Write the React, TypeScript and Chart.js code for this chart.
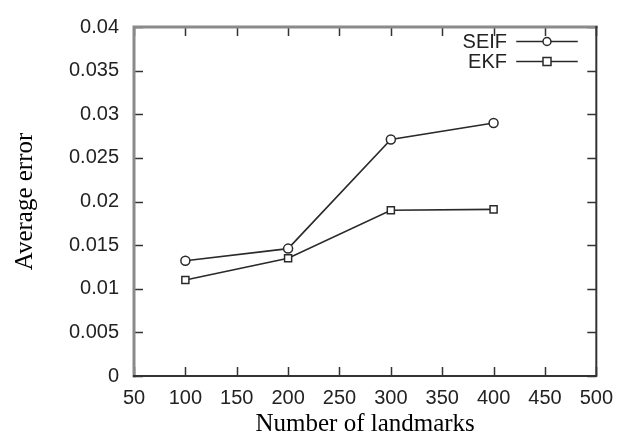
import React, { useEffect, useRef } from "react";
import { Chart, registerables } from "chart.js";

Chart.register(...registerables);

const landmarks = [100, 200, 300, 400];
const seifError = [0.0132, 0.0146, 0.0271, 0.029];
const ekfError = [0.011, 0.0135, 0.019, 0.0191];
const seriesNames = ["SEIF", "EKF"];
const xTickValues = [50, 100, 150, 200, 250, 300, 350, 400, 450, 500];
const yTickValues = [0, 0.005, 0.01, 0.015, 0.02, 0.025, 0.03, 0.035, 0.04];
const xTitle = "Number of landmarks";
const yTitle = "Average error";

const LINE = "#2a2a2a";

const framePlugin = {
  id: "gnuFrame",
  afterDatasetsDraw(chart: any) {
    const { ctx, chartArea: a, scales } = chart;
    const L = 9;
    ctx.save();
    // tick marks (inward, mirrored)
    ctx.strokeStyle = "#333";
    ctx.lineWidth = 1.5;
    xTickValues.forEach((v) => {
      const x = Math.round(scales.x.getPixelForValue(v)) + 0.5;
      ctx.beginPath();
      ctx.moveTo(x, a.bottom);
      ctx.lineTo(x, a.bottom - L);
      ctx.moveTo(x, a.top);
      ctx.lineTo(x, a.top + L);
      ctx.stroke();
    });
    yTickValues.forEach((v) => {
      const y = Math.round(scales.y.getPixelForValue(v)) + 0.5;
      ctx.beginPath();
      ctx.moveTo(a.left, y);
      ctx.lineTo(a.left + L, y);
      ctx.moveTo(a.right, y);
      ctx.lineTo(a.right - L, y);
      ctx.stroke();
    });
    // frame
    ctx.lineCap = "square";
    ctx.strokeStyle = "#8a8a8a";
    ctx.lineWidth = 3;
    ctx.beginPath();
    ctx.moveTo(a.left, a.bottom);
    ctx.lineTo(a.left, a.top);
    ctx.lineTo(a.right, a.top);
    ctx.stroke();
    ctx.strokeStyle = "#333";
    ctx.lineWidth = 2;
    ctx.beginPath();
    ctx.moveTo(a.right, a.top);
    ctx.lineTo(a.right, a.bottom);
    ctx.lineTo(a.left, a.bottom);
    ctx.stroke();

    // legend (text left of sample, gnuplot style)
    const textRight = 507;
    const x0 = 517;
    const x1 = 577;
    const xm = (x0 + x1) / 2;
    const rows = [41, 61];
    ctx.font = "20px 'Liberation Sans', Arial, sans-serif";
    ctx.textAlign = "right";
    ctx.textBaseline = "middle";
    chart.data.datasets.forEach((ds: any, i: number) => {
      const y = rows[i];
      ctx.fillStyle = "#222";
      ctx.fillText(ds.label, textRight, y + 1);
      ctx.strokeStyle = LINE;
      ctx.lineWidth = 1.5;
      ctx.beginPath();
      ctx.moveTo(x0, y + 0.5);
      ctx.lineTo(x1, y + 0.5);
      ctx.stroke();
      ctx.fillStyle = "#fff";
      ctx.beginPath();
      if (ds.pointStyle === "rect") {
        ctx.rect(xm - 4, y - 3.5, 8, 8);
      } else {
        ctx.arc(xm, y + 0.5, 4, 0, Math.PI * 2);
      }
      ctx.fill();
      ctx.stroke();
    });
    ctx.restore();
  },
};

export default function App() {
  const ref = useRef<HTMLCanvasElement | null>(null);
  useEffect(() => {
    if (!ref.current) return;
    const chart = new Chart(ref.current, {
      type: "line",
      data: {
        datasets: [
          {
            label: seriesNames[0],
            data: landmarks.map((x, i) => ({ x, y: seifError[i] })),
            borderColor: LINE,
            borderWidth: 1.6,
            pointStyle: "circle",
            pointRadius: 4.5,
            pointBorderWidth: 1.5,
            pointBackgroundColor: "#fff",
            pointBorderColor: LINE,
            tension: 0,
            fill: false,
          },
          {
            label: seriesNames[1],
            data: landmarks.map((x, i) => ({ x, y: ekfError[i] })),
            borderColor: LINE,
            borderWidth: 1.6,
            pointStyle: "rect",
            pointRadius: 5,
            pointBorderWidth: 1.5,
            pointBackgroundColor: "#fff",
            pointBorderColor: LINE,
            tension: 0,
            fill: false,
          },
        ],
      },
      options: {
        responsive: false,
        animation: false,
        devicePixelRatio: 1,
        layout: { padding: { left: 0, right: 21, top: 22, bottom: 0 } },
        plugins: { legend: { display: false }, tooltip: { enabled: false } },
        scales: {
          x: {
            type: "linear",
            min: 50,
            max: 500,
            afterBuildTicks: (s: any) => {
              s.ticks = xTickValues.map((v) => ({ value: v }));
            },
            afterFit: (s: any) => {
              s.height = 61;
            },
            grid: { display: false, drawTicks: false },
            border: { display: false },
            ticks: {
              padding: 10,
              maxRotation: 0,
              autoSkip: false,
              color: "#222",
              font: { family: "'Liberation Sans', Arial, sans-serif", size: 20 },
              callback: (v: any) => String(v),
            },
            title: {
              display: true,
              text: xTitle,
              color: "#000",
              padding: { top: 0, bottom: 0 },
              font: { family: "'Liberation Serif', 'Times New Roman', serif", size: 25, lineHeight: 1 },
            },
          },
          y: {
            type: "linear",
            min: 0,
            max: 0.04,
            afterBuildTicks: (s: any) => {
              s.ticks = yTickValues.map((v) => ({ value: v }));
            },
            afterFit: (s: any) => {
              s.width = 134;
            },
            grid: { display: false, drawTicks: false },
            border: { display: false },
            ticks: {
              padding: 15,
              autoSkip: false,
              color: "#222",
              font: { family: "'Liberation Sans', Arial, sans-serif", size: 20 },
              callback: (v: any) => String(Number(Number(v).toFixed(3))),
            },
            title: {
              display: true,
              text: yTitle,
              color: "#000",
              padding: { top: 10, bottom: 0 },
              font: { family: "'Liberation Serif', 'Times New Roman', serif", size: 25, lineHeight: 1.2 },
            },
          },
        },
      },
      plugins: [framePlugin],
    } as any);
    return () => chart.destroy();
  }, []);
  return (
    <div style={{ position: "absolute", left: 0, top: 0, width: 623, height: 437, background: "#fff" }}>
      <canvas ref={ref} width={623} height={437} />
    </div>
  );
}
